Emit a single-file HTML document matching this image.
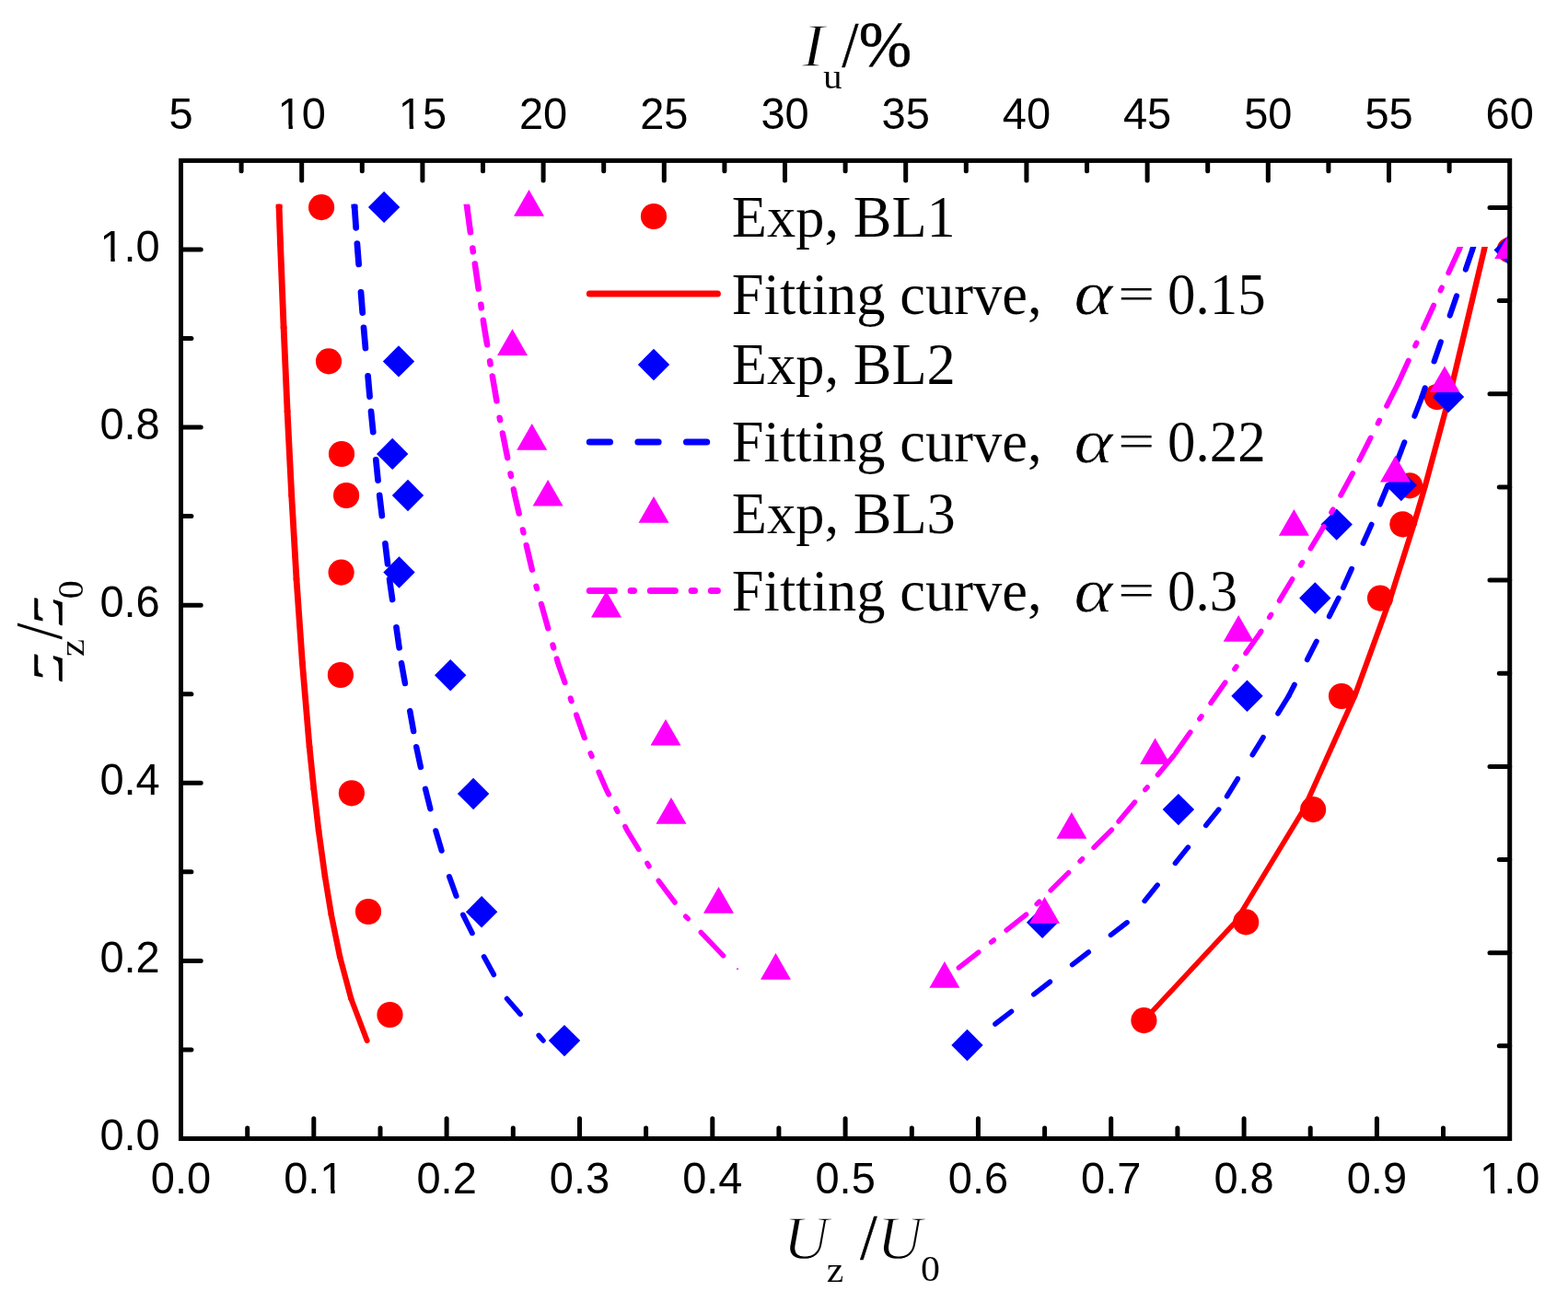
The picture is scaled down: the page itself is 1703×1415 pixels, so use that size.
<!DOCTYPE html>
<html lang="en"><head><meta charset="utf-8"><title>Wind profiles</title>
<style>html,body{margin:0;padding:0;background:#fff;}svg{display:block;}.t{font-family:"Liberation Sans",sans-serif;fill:#000;stroke:#fff;stroke-width:0px;}.s{font-family:"Liberation Serif",serif;fill:#000;stroke:#fff;stroke-width:0.1px;}.i{font-style:italic;stroke-width:1.3px;}.c{fill:none;stroke-width:7;stroke-linecap:round;stroke-linejoin:round;}</style></head><body>
<svg width="1703" height="1415" viewBox="0 0 1703 1415">
<rect width="1703" height="1415" fill="#fff"/>
<defs><clipPath id="c"><rect x="196.5" y="174.4" width="1441.7" height="1062.1"/></clipPath><clipPath id="cl"><rect x="200" y="221.7" width="700" height="20"/></clipPath><clipPath id="cr"><rect x="900" y="268.1" width="800" height="20"/></clipPath></defs>
<g clip-path="url(#c)">
<path d="M302.8 217 L303.2 226" fill="none" stroke="#ff0000" stroke-width="6.89" stroke-linecap="butt" clip-path="url(#cl)"/>
<g class="c" stroke="#ff0000">
<path d="M303.1 225L304.5 264.7" stroke-width="6.89"/>
<path d="M304.5 264.7L308.1 355.8" stroke-width="6.88"/>
<path d="M308.1 355.8L312.1 446.9" stroke-width="6.86"/>
<path d="M312.1 446.9L316.7 537.9" stroke-width="6.85"/>
<path d="M316.7 537.9L322 629" stroke-width="6.82"/>
<path d="M322 629L328.4 720.1" stroke-width="6.79"/>
<path d="M328.4 720.1L336.1 811.2" stroke-width="6.74"/>
<path d="M336.1 811.2L340.8 856.7" stroke-width="6.69"/>
<path d="M340.8 856.7L346.1 902.3" stroke-width="6.64"/>
<path d="M346.1 902.3L353 952" stroke-width="6.58"/>
<path d="M353 952L359.8 993.4" stroke-width="6.5"/>
<path d="M359.8 993.4L369.1 1038.9" stroke-width="6.4"/>
<path d="M369.1 1038.9L381.3 1084.5" stroke-width="6.23"/>
<path d="M381.3 1084.5L398.6 1130" stroke-width="5.98"/>
</g>
<path d="M1613.8 263.5 L1611.6 272.5" fill="none" stroke="#ff0000" stroke-width="6.31" stroke-linecap="butt" clip-path="url(#cr)"/>
<g class="c" stroke="#ff0000">
<path d="M1611.9 271.5L1574 431" stroke-width="6.31"/>
<path d="M1574 431L1548 527.3" stroke-width="6.22"/>
<path d="M1548 527.3L1535.6 569.3" stroke-width="6.17"/>
<path d="M1535.6 569.3L1510.1 649.6" stroke-width="6.11"/>
<path d="M1510.1 649.6L1471.3 756" stroke-width="6.01"/>
<path d="M1471.3 756L1415.9 879.1" stroke-width="5.85"/>
<path d="M1415.9 879.1L1341.7 1001.4" stroke-width="5.63"/>
<path d="M1341.7 1001.4L1242.4 1108.1" stroke-width="5.46"/>
</g>
<circle cx="349.1" cy="225.1" r="14.1" fill="#ff0000"/>
<circle cx="357" cy="392.4" r="14.1" fill="#ff0000"/>
<circle cx="371" cy="493" r="14.1" fill="#ff0000"/>
<circle cx="376.1" cy="538" r="14.1" fill="#ff0000"/>
<circle cx="370.6" cy="621.6" r="14.1" fill="#ff0000"/>
<circle cx="369.9" cy="733" r="14.1" fill="#ff0000"/>
<circle cx="381.9" cy="861.3" r="14.1" fill="#ff0000"/>
<circle cx="400" cy="990" r="14.1" fill="#ff0000"/>
<circle cx="423.5" cy="1102" r="14.1" fill="#ff0000"/>
<circle cx="1639.7" cy="271.5" r="14.1" fill="#ff0000"/>
<circle cx="1560.8" cy="431.1" r="14.1" fill="#ff0000"/>
<circle cx="1531" cy="527.3" r="14.1" fill="#ff0000"/>
<circle cx="1523.4" cy="569.3" r="14.1" fill="#ff0000"/>
<circle cx="1499" cy="649.6" r="14.1" fill="#ff0000"/>
<circle cx="1457" cy="756" r="14.1" fill="#ff0000"/>
<circle cx="1426.1" cy="879.1" r="14.1" fill="#ff0000"/>
<circle cx="1353.2" cy="1001.4" r="14.1" fill="#ff0000"/>
<circle cx="1242.4" cy="1108.1" r="14.1" fill="#ff0000"/>
<path d="M384.5 217 L385.1 226" fill="none" stroke="#0000ff" stroke-width="6.78" stroke-linecap="butt" clip-path="url(#cl)"/>
<g class="c" stroke="#0000ff">
<path d="M385.1 225L387.9 264.7" stroke-width="6.78" stroke-dasharray="22.3 30.5"/>
<path d="M387.9 264.7L395 355.8" stroke-width="6.76" stroke-dasharray="22.3 30.5"/>
<path d="M395 355.8L403 446.9" stroke-width="6.73" stroke-dasharray="22.3 30.5"/>
<path d="M403 446.9L412.2 537.9" stroke-width="6.69" stroke-dasharray="22.3 30.5"/>
<path d="M412.2 537.9L423 629" stroke-width="6.64" stroke-dasharray="22.3 30.5"/>
<path d="M423 629L436 720.1" stroke-width="6.57" stroke-dasharray="22.3 30.5"/>
<path d="M436 720.1L452.2 811.2" stroke-width="6.47" stroke-dasharray="22.3 30.5"/>
<path d="M452.2 811.2L462 856.7" stroke-width="6.37" stroke-dasharray="22.3 30.5"/>
<path d="M462 856.7L473.3 902.3" stroke-width="6.28" stroke-dasharray="22.3 30.5"/>
<path d="M473.3 902.3L488 952" stroke-width="6.16" stroke-dasharray="22.3 30.5"/>
<path d="M488 952L502.9 993.4" stroke-width="6.02" stroke-dasharray="22.3 30.5"/>
<path d="M502.9 993.4L525.6 1038.9" stroke-width="5.77" stroke-dasharray="22.3 30.5"/>
<path d="M525.6 1038.9L550.5 1084.5" stroke-width="5.7" stroke-dasharray="22.3 30.5"/>
<path d="M550.5 1084.5L590 1130" stroke-width="5.48" stroke-dasharray="22.3 30.5"/>
</g>
<path d="M1601.8 263.5 L1598.7 272.5" fill="none" stroke="#0000ff" stroke-width="6.06" stroke-linecap="butt" clip-path="url(#cr)"/>
<g class="c" stroke="#0000ff">
<path d="M1599.1 271.5L1544.4 431" stroke-width="6.06" stroke-dasharray="22.3 30.5"/>
<path d="M1544.4 431L1507.3 527" stroke-width="5.96" stroke-dasharray="22.3 30.5"/>
<path d="M1507.3 527L1489.6 569.6" stroke-width="5.91" stroke-dasharray="22.3 30.5"/>
<path d="M1489.6 569.6L1453.8 649.5" stroke-width="5.85" stroke-dasharray="22.3 30.5"/>
<path d="M1453.8 649.5L1399.7 755.8" stroke-width="5.76" stroke-dasharray="22.3 30.5"/>
<path d="M1399.7 755.8L1323.7 879.1" stroke-width="5.62" stroke-dasharray="22.3 30.5"/>
<path d="M1323.7 879.1L1224.1 1001.8" stroke-width="5.49" stroke-dasharray="22.3 30.5"/>
<path d="M1224.1 1001.8L1051.1 1135" stroke-width="5.51" stroke-dasharray="22.3 30.5"/>
</g>
<path d="M417.1 207.7 l17.2 17.2 l-17.2 17.2 l-17.2 -17.2 z" fill="#0000ff"/>
<path d="M433 375.2 l17.2 17.2 l-17.2 17.2 l-17.2 -17.2 z" fill="#0000ff"/>
<path d="M426.2 475.7 l17.2 17.2 l-17.2 17.2 l-17.2 -17.2 z" fill="#0000ff"/>
<path d="M443 520.8 l17.2 17.2 l-17.2 17.2 l-17.2 -17.2 z" fill="#0000ff"/>
<path d="M433.5 604.3 l17.2 17.2 l-17.2 17.2 l-17.2 -17.2 z" fill="#0000ff"/>
<path d="M489.2 716.1 l17.2 17.2 l-17.2 17.2 l-17.2 -17.2 z" fill="#0000ff"/>
<path d="M514.1 844.8 l17.2 17.2 l-17.2 17.2 l-17.2 -17.2 z" fill="#0000ff"/>
<path d="M523.1 973.1 l17.2 17.2 l-17.2 17.2 l-17.2 -17.2 z" fill="#0000ff"/>
<path d="M613 1112.9 l17.2 17.2 l-17.2 17.2 l-17.2 -17.2 z" fill="#0000ff"/>
<path d="M1639.7 254.3 l17.2 17.2 l-17.2 17.2 l-17.2 -17.2 z" fill="#0000ff"/>
<path d="M1573 413.8 l17.2 17.2 l-17.2 17.2 l-17.2 -17.2 z" fill="#0000ff"/>
<path d="M1521.8 509.8 l17.2 17.2 l-17.2 17.2 l-17.2 -17.2 z" fill="#0000ff"/>
<path d="M1451.7 552.4 l17.2 17.2 l-17.2 17.2 l-17.2 -17.2 z" fill="#0000ff"/>
<path d="M1428.3 632.3 l17.2 17.2 l-17.2 17.2 l-17.2 -17.2 z" fill="#0000ff"/>
<path d="M1354.5 738.6 l17.2 17.2 l-17.2 17.2 l-17.2 -17.2 z" fill="#0000ff"/>
<path d="M1279.9 861.9 l17.2 17.2 l-17.2 17.2 l-17.2 -17.2 z" fill="#0000ff"/>
<path d="M1132.1 984.6 l17.2 17.2 l-17.2 17.2 l-17.2 -17.2 z" fill="#0000ff"/>
<path d="M1050.5 1117.8 l17.2 17.2 l-17.2 17.2 l-17.2 -17.2 z" fill="#0000ff"/>
<path d="M506.1 217 L507.4 226" fill="none" stroke="#ff00ff" stroke-width="6.59" stroke-linecap="butt" clip-path="url(#cl)"/>
<g class="c" stroke="#ff00ff">
<path d="M507.3 225.3L510.9 252.3" stroke-width="6.59"/>
<path d="M513.3 269.6L513.8 273.2" stroke-width="6.56"/>
<path d="M515.8 286.6L519.7 313.5" stroke-width="6.56"/>
<path d="M522.3 330.7L522.8 334.3" stroke-width="6.56"/>
<path d="M524.8 347.7L526 355.8L529.1 374.2" stroke-width="6.51"/>
<path d="M532.1 392.2L532.6 395.4" stroke-width="6.5"/>
<path d="M534.8 408.5L539.4 435.4" stroke-width="6.5"/>
<path d="M542.6 453.7L543.1 456.2" stroke-width="6.42"/>
<path d="M545.9 470.5L551.2 497.2" stroke-width="6.42"/>
<path d="M554.5 514.4L555 516.9" stroke-width="6.42"/>
<path d="M557.8 531.3L559.1 537.9L563.7 557.6" stroke-width="6.35"/>
<path d="M567.8 575.4L568.5 578.4" stroke-width="6.32"/>
<path d="M571.7 592.2L577.9 618.7" stroke-width="6.32"/>
<path d="M582.4 636.7L583.1 639.2" stroke-width="6.19"/>
<path d="M587.9 656L595.3 682.3" stroke-width="6.19"/>
<path d="M600.4 700.5L601.3 703.5" stroke-width="6.19"/>
<path d="M604.7 715.4L606 720.1L613.5 741.2" stroke-width="6.06"/>
<path d="M619.6 758.3L620.6 761.3" stroke-width="6.03"/>
<path d="M626 776.4L634.8 801.2" stroke-width="6.03"/>
<path d="M641.4 818.1L642.8 821.3" stroke-width="5.87"/>
<path d="M650.3 838.5L658.2 856.7L661.2 862.6" stroke-width="5.84"/>
<path d="M669.1 878.1L670.7 881.3" stroke-width="5.76"/>
<path d="M679 897.6L681.4 902.3L693.7 922.4" stroke-width="5.65"/>
<path d="M703 937.5L704.9 940.7" stroke-width="5.63"/>
<path d="M715.3 956.5L733 980" stroke-width="5.52"/>
<path d="M744.7 995.1L747.2 997.7" stroke-width="5.46"/>
<path d="M761.3 1012.5L785.6 1037.9" stroke-width="5.46"/>
</g>
<path d="M1588.2 263.5 L1584.1 272.5" fill="none" stroke="#ff00ff" stroke-width="5.84" stroke-linecap="butt" clip-path="url(#cr)"/>
<g class="c" stroke="#ff00ff">
<path d="M1584.6 271.5L1518.4 416.5" stroke-width="5.84" stroke-dasharray="27.3 17.6 3.5 17.6"/>
<path d="M1518.4 416.5L1469.2 513.9" stroke-width="5.76" stroke-dasharray="27.3 17.6 3.5 17.6"/>
<path d="M1469.2 513.9L1437.5 572.2" stroke-width="5.71" stroke-dasharray="27.3 17.6 3.5 17.6"/>
<path d="M1437.5 572.2L1368.7 687.1" stroke-width="5.64" stroke-dasharray="27.3 17.6 3.5 17.6"/>
<path d="M1368.7 687.1L1274.9 820.5" stroke-width="5.55" stroke-dasharray="27.3 17.6 3.5 17.6"/>
<path d="M1274.9 820.5L1207.4 901.1" stroke-width="5.48" stroke-dasharray="27.3 17.6 3.5 17.6"/>
<path d="M1207.4 901.1L1114.6 993.2" stroke-width="5.46" stroke-dasharray="27.3 17.6 3.5 17.6"/>
<path d="M1114.6 993.2L1025.8 1063.2" stroke-width="5.5" stroke-dasharray="27.3 17.6 3.5 17.6"/>
</g>
<circle cx="801" cy="1052.2" r="1" fill="#ff00ff"/>
<path d="M574.5 206 l16.5 28.7 h-33 z" fill="#ff00ff"/>
<path d="M556.5 357.3 l16.5 28.7 h-33 z" fill="#ff00ff"/>
<path d="M577.7 460.1 l16.5 28.7 h-33 z" fill="#ff00ff"/>
<path d="M595.1 520.9 l16.5 28.7 h-33 z" fill="#ff00ff"/>
<path d="M658.5 641.8 l16.5 28.7 h-33 z" fill="#ff00ff"/>
<path d="M723 780.9 l16.5 28.7 h-33 z" fill="#ff00ff"/>
<path d="M729 866.1 l16.5 28.7 h-33 z" fill="#ff00ff"/>
<path d="M780.5 963 l16.5 28.7 h-33 z" fill="#ff00ff"/>
<path d="M842.5 1035 l16.5 28.7 h-33 z" fill="#ff00ff"/>
<path d="M1639.7 252.4 l16.5 28.7 h-33 z" fill="#ff00ff"/>
<path d="M1569 397.4 l16.5 28.7 h-33 z" fill="#ff00ff"/>
<path d="M1515.5 494.8 l16.5 28.7 h-33 z" fill="#ff00ff"/>
<path d="M1405.4 553.1 l16.5 28.7 h-33 z" fill="#ff00ff"/>
<path d="M1345.2 668 l16.5 28.7 h-33 z" fill="#ff00ff"/>
<path d="M1254.6 801.4 l16.5 28.7 h-33 z" fill="#ff00ff"/>
<path d="M1163.9 882 l16.5 28.7 h-33 z" fill="#ff00ff"/>
<path d="M1134.5 974.1 l16.5 28.7 h-33 z" fill="#ff00ff"/>
<path d="M1025.9 1044.1 l16.5 28.7 h-33 z" fill="#ff00ff"/>
</g>
<circle cx="710" cy="235" r="14.1" fill="#ff0000"/>
<text class="s" transform="translate(794.8 256.8) scale(1 1.015)" font-size="62.5">Exp, BL1</text>
<path d="M640.3 318.9 H779.4" stroke="#ff0000" stroke-width="7" stroke-linecap="round" fill="none"/>
<text class="s" transform="translate(794.8 340.9) scale(1 1.015)" font-size="62.5">Fitting curve,</text>
<text class="s i" transform="translate(1166.59 341.33) scale(1.2863 1.0733)" font-size="62.5" style="stroke:#fff;stroke-width:0.5px">α</text>
<text class="s" transform="translate(1214.36 336.07) scale(1.1336 0.8128)" font-size="62.5">=</text>
<text class="s" transform="translate(1268 340.9) scale(0.975 1.015)" font-size="62.5">0.15</text>
<path d="M710 378.8 l17.2 17.2 l-17.2 17.2 l-17.2 -17.2 z" fill="#0000ff"/>
<text class="s" transform="translate(794.8 417.1) scale(1 1.015)" font-size="62.5">Exp, BL2</text>
<path d="M640.3 479.9 H779.4" stroke="#0000ff" stroke-width="7" stroke-linecap="round" fill="none" stroke-dasharray="22.2 30.4"/>
<text class="s" transform="translate(794.8 501.2) scale(1 1.015)" font-size="62.5">Fitting curve,</text>
<text class="s i" transform="translate(1166.59 501.63) scale(1.2863 1.0733)" font-size="62.5" style="stroke:#fff;stroke-width:0.5px">α</text>
<text class="s" transform="translate(1214.36 496.37) scale(1.1336 0.8128)" font-size="62.5">=</text>
<text class="s" transform="translate(1268 501.2) scale(0.975 1.015)" font-size="62.5">0.22</text>
<path d="M710 539 l16.5 28.7 h-33 z" fill="#ff00ff"/>
<text class="s" transform="translate(794.8 579.1) scale(1 1.015)" font-size="62.5">Exp, BL3</text>
<path d="M640.3 641.4 H779.4" stroke="#ff00ff" stroke-width="7" stroke-linecap="round" fill="none" stroke-dasharray="27 17.8 3.4 17.8"/>
<text class="s" transform="translate(794.8 663.2) scale(1 1.015)" font-size="62.5">Fitting curve,</text>
<text class="s i" transform="translate(1166.59 663.63) scale(1.2863 1.0733)" font-size="62.5" style="stroke:#fff;stroke-width:0.5px">α</text>
<text class="s" transform="translate(1214.36 658.37) scale(1.1336 0.8128)" font-size="62.5">=</text>
<text class="s" transform="translate(1268 663.2) scale(0.975 1.015)" font-size="62.5">0.3</text>
<g stroke="#000" stroke-width="5" fill="none">
<rect x="196.5" y="174.4" width="1443.2" height="1062.1"/>
<path d="M268.7 1236.5 v-11.4 M340.8 1236.5 v-21.7 M413 1236.5 v-11.4 M485.1 1236.5 v-21.7 M557.3 1236.5 v-11.4 M629.5 1236.5 v-21.7 M701.6 1236.5 v-11.4 M773.8 1236.5 v-21.7 M845.9 1236.5 v-11.4 M918.1 1236.5 v-21.7 M990.3 1236.5 v-11.4 M1062.4 1236.5 v-21.7 M1134.6 1236.5 v-11.4 M1206.7 1236.5 v-21.7 M1278.9 1236.5 v-11.4 M1351.1 1236.5 v-21.7 M1423.2 1236.5 v-11.4 M1495.4 1236.5 v-21.7 M1567.5 1236.5 v-11.4 M262.1 174.4 v11.4 M327.7 174.4 v21.7 M393.3 174.4 v11.4 M458.9 174.4 v21.7 M524.5 174.4 v11.4 M590.1 174.4 v21.7 M655.7 174.4 v11.4 M721.3 174.4 v21.7 M786.9 174.4 v11.4 M852.5 174.4 v21.7 M918.1 174.4 v11.4 M983.7 174.4 v21.7 M1049.3 174.4 v11.4 M1114.9 174.4 v21.7 M1180.5 174.4 v11.4 M1246.1 174.4 v21.7 M1311.7 174.4 v11.4 M1377.3 174.4 v21.7 M1442.9 174.4 v11.4 M1508.5 174.4 v21.7 M1574.1 174.4 v11.4 M196.5 1139.9 h11.4 M196.5 1043.4 h21.7 M196.5 946.8 h11.4 M196.5 850.3 h21.7 M196.5 753.7 h11.4 M196.5 657.2 h21.7 M196.5 560.6 h11.4 M196.5 464.1 h21.7 M196.5 367.5 h11.4 M196.5 271 h21.7 M1639.7 1135.8 h-11.4 M1639.7 1034.7 h-21.7 M1639.7 933.5 h-11.4 M1639.7 832.4 h-21.7 M1639.7 731.2 h-11.4 M1639.7 630.1 h-21.7 M1639.7 528.9 h-11.4 M1639.7 427.8 h-21.7 M1639.7 326.6 h-11.4 M1639.7 225.5 h-21.7" stroke-linecap="round"/>
</g>
<text class="t" transform="translate(196.5 1295.8) scale(1 1.025)" font-size="47" text-anchor="middle">0.0</text>
<text class="t" transform="translate(340.82 1295.8) scale(1 1.025)" font-size="47" text-anchor="middle">0.1</text>
<path transform="translate(340.82 1295.8) scale(1 1.025)" d="M9.35 -3.85 H18.51 V0.47 H9.35 Z M22.88 -3.85 H31.44 V0.47 H22.88 Z" fill="#fff"/>
<text class="t" transform="translate(485.14 1295.8) scale(1 1.025)" font-size="47" text-anchor="middle">0.2</text>
<text class="t" transform="translate(629.46 1295.8) scale(1 1.025)" font-size="47" text-anchor="middle">0.3</text>
<text class="t" transform="translate(773.78 1295.8) scale(1 1.025)" font-size="47" text-anchor="middle">0.4</text>
<text class="t" transform="translate(918.1 1295.8) scale(1 1.025)" font-size="47" text-anchor="middle">0.5</text>
<text class="t" transform="translate(1062.42 1295.8) scale(1 1.025)" font-size="47" text-anchor="middle">0.6</text>
<text class="t" transform="translate(1206.74 1295.8) scale(1 1.025)" font-size="47" text-anchor="middle">0.7</text>
<text class="t" transform="translate(1351.06 1295.8) scale(1 1.025)" font-size="47" text-anchor="middle">0.8</text>
<text class="t" transform="translate(1495.38 1295.8) scale(1 1.025)" font-size="47" text-anchor="middle">0.9</text>
<text class="t" transform="translate(1639.7 1295.8) scale(1 1.025)" font-size="47" text-anchor="middle">1.0</text>
<path transform="translate(1639.7 1295.8) scale(1 1.025)" d="M-29.85 -3.85 H-20.68 V0.47 H-29.85 Z M-16.31 -3.85 H-7.76 V0.47 H-16.31 Z" fill="#fff"/>
<text class="t" transform="translate(196.5 139.8) scale(1 1.025)" font-size="47" text-anchor="middle">5</text>
<text class="t" transform="translate(327.7 139.8) scale(1 1.025)" font-size="47" text-anchor="middle">10</text>
<path transform="translate(327.7 139.8) scale(1 1.025)" d="M-23.32 -3.85 H-14.16 V0.47 H-23.32 Z M-9.79 -3.85 H-1.23 V0.47 H-9.79 Z" fill="#fff"/>
<text class="t" transform="translate(458.9 139.8) scale(1 1.025)" font-size="47" text-anchor="middle">15</text>
<path transform="translate(458.9 139.8) scale(1 1.025)" d="M-23.32 -3.85 H-14.16 V0.47 H-23.32 Z M-9.79 -3.85 H-1.23 V0.47 H-9.79 Z" fill="#fff"/>
<text class="t" transform="translate(590.1 139.8) scale(1 1.025)" font-size="47" text-anchor="middle">20</text>
<text class="t" transform="translate(721.3 139.8) scale(1 1.025)" font-size="47" text-anchor="middle">25</text>
<text class="t" transform="translate(852.5 139.8) scale(1 1.025)" font-size="47" text-anchor="middle">30</text>
<text class="t" transform="translate(983.7 139.8) scale(1 1.025)" font-size="47" text-anchor="middle">35</text>
<text class="t" transform="translate(1114.9 139.8) scale(1 1.025)" font-size="47" text-anchor="middle">40</text>
<text class="t" transform="translate(1246.1 139.8) scale(1 1.025)" font-size="47" text-anchor="middle">45</text>
<text class="t" transform="translate(1377.3 139.8) scale(1 1.025)" font-size="47" text-anchor="middle">50</text>
<text class="t" transform="translate(1508.5 139.8) scale(1 1.025)" font-size="47" text-anchor="middle">55</text>
<text class="t" transform="translate(1639.7 139.8) scale(1 1.025)" font-size="47" text-anchor="middle">60</text>
<text class="t" transform="translate(173.7 1249.2) scale(1 1.025)" font-size="47" text-anchor="end">0.0</text>
<text class="t" transform="translate(173.7 1056.09) scale(1 1.025)" font-size="47" text-anchor="end">0.2</text>
<text class="t" transform="translate(173.7 862.98) scale(1 1.025)" font-size="47" text-anchor="end">0.4</text>
<text class="t" transform="translate(173.7 669.87) scale(1 1.025)" font-size="47" text-anchor="end">0.6</text>
<text class="t" transform="translate(173.7 476.76) scale(1 1.025)" font-size="47" text-anchor="end">0.8</text>
<text class="t" transform="translate(173.7 283.65) scale(1 1.025)" font-size="47" text-anchor="end">1.0</text>
<path transform="translate(173.7 283.65) scale(1 1.025)" d="M-62.52 -3.85 H-53.35 V0.47 H-62.52 Z M-48.98 -3.85 H-40.43 V0.47 H-48.98 Z" fill="#fff"/>
<text class="s i" transform="translate(870.8 72.41) scale(1.0969 1.002)" font-size="68.5">I</text>
<text class="s" transform="translate(893.99 95.62) scale(1.0319 0.9574)" font-size="40">u</text>
<text class="s" transform="translate(914.5 72.1) scale(0.9385 1.0241)" font-size="68.5" style="stroke:#000;stroke-width:0.5px">/</text>
<text class="s" transform="translate(932.73 72.32) scale(1.0067 1.0069)" font-size="68.5" style="stroke:#000;stroke-width:0.5px">%</text>
<text class="s i" transform="translate(850.74 1367.43) scale(0.9986 0.9979)" font-size="68.5">U</text>
<text class="s" transform="translate(897.85 1392) scale(1.0449 0.9674)" font-size="40">z</text>
<text class="s" transform="translate(934.3 1367.09) scale(0.9593 1.0284)" font-size="68.5" style="stroke:#000;stroke-width:0.5px">/</text>
<text class="s i" transform="translate(952.54 1367.43) scale(0.9986 0.9979)" font-size="68.5">U</text>
<text class="s" transform="translate(1000.02 1391.21) scale(1.0476 0.9926)" font-size="40">0</text>
<text class="s i" transform="translate(67.3 738.38) rotate(-90) scale(1.0556 0.933)" font-size="68.5" style="stroke:#000;stroke-width:1.6px">z</text>
<path transform="translate(67.3 738.38) rotate(-90) scale(1.0556 0.9330)" d="M15.41 -27.83 L29.11 -27.83 L9.93 -3.68 L-4.45 -3.68 Z" fill="#fff"/>
<text class="s" transform="translate(90.9 713.32) rotate(-90) scale(1.0962 0.9674)" font-size="40">z</text>
<text class="s" transform="translate(66.47 694.5) rotate(-90) scale(0.9437 1.0437)" font-size="68.5" style="stroke:none">/</text>
<text class="s i" transform="translate(67.3 677.57) rotate(-90) scale(1.0631 0.933)" font-size="68.5" style="stroke:#000;stroke-width:1.6px">z</text>
<path transform="translate(67.3 677.57) rotate(-90) scale(1.0631 0.9330)" d="M15.41 -27.83 L29.11 -27.83 L9.93 -3.68 L-4.45 -3.68 Z" fill="#fff"/>
<text class="s" transform="translate(90.11 650.62) rotate(-90) scale(1.0119 0.989)" font-size="40">0</text>
</svg>
</body></html>
